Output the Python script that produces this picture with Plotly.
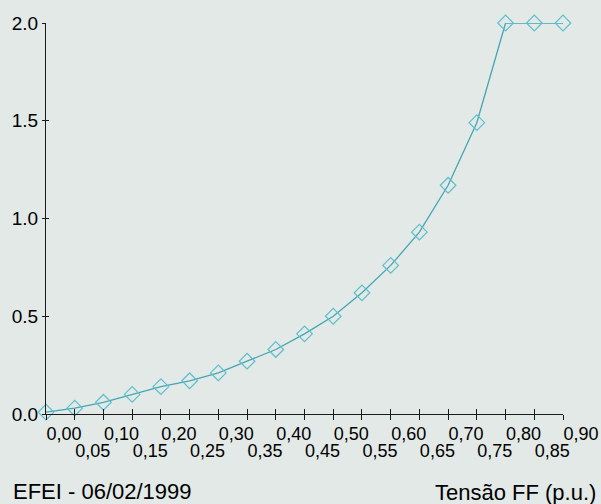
import plotly.graph_objects as go

# Data
tensao = [0.00, 0.05, 0.10, 0.15, 0.20, 0.25, 0.30, 0.35, 0.40, 0.45,
          0.50, 0.55, 0.60, 0.65, 0.70, 0.75, 0.80, 0.85, 0.90]
valores = [0.01, 0.03, 0.06, 0.10, 0.14, 0.17, 0.21, 0.27, 0.33, 0.41,
           0.50, 0.62, 0.76, 0.93, 1.17, 1.49, 2.00, 2.00, 2.00]
x_labels = ["0,00", "0,05", "0,10", "0,15", "0,20", "0,25", "0,30", "0,35", "0,40", "0,45",
            "0,50", "0,55", "0,60", "0,65", "0,70", "0,75", "0,80", "0,85", "0,90"]
y_ticks = [0.0, 0.5, 1.0, 1.5, 2.0]
y_labels = ["0.0", "0.5", "1.0", "1.5", "2.0"]
left_note = "EFEI - 06/02/1999"
x_title = "Tensão FF (p.u.)"

BG = "#e3e9e6"
AX = "#1a1a1a"
FONT = "Liberation Sans, Arial, sans-serif"

row1 = [t if i % 2 == 0 else "" for i, t in enumerate(x_labels)]
row2 = [t if i % 2 == 1 else "" for i, t in enumerate(x_labels)]

fig = go.Figure()
fig.add_trace(go.Scatter(
    x=tensao, y=valores, mode="lines+markers",
    line=dict(color="#45a5b3", width=1.3),
    marker=dict(symbol="diamond-open", size=12, color="#5dbfcd", line=dict(width=1.2)),
    cliponaxis=False, showlegend=False, hoverinfo="x+y",
))
# invisible trace on overlay axes (inner half of the cross ticks + second label row)
fig.add_trace(go.Scatter(
    x=tensao, y=valores, mode="markers", xaxis="x2", yaxis="y2",
    marker=dict(opacity=0), showlegend=False, hoverinfo="skip",
))

common_x = dict(range=[0, 0.9], tickvals=tensao, showgrid=False, zeroline=False,
                showline=True, linecolor=AX, linewidth=1.3, tickcolor=AX, tickwidth=1.2,
                tickfont=dict(family=FONT, size=18, color="#000"), fixedrange=True,
                automargin=False)
common_y = dict(range=[0, 2.0], tickvals=y_ticks, showgrid=False, zeroline=False,
                showline=True, linecolor=AX, linewidth=1.3, tickcolor=AX, tickwidth=1.2,
                tickfont=dict(family=FONT, size=19, color="#000"), fixedrange=True,
                automargin=False)

fig.update_layout(
    width=601, height=504,
    margin=dict(l=46, r=38, t=23, b=90),
    paper_bgcolor=BG, plot_bgcolor=BG,
    xaxis=dict(**common_x, ticks="outside", ticklen=5, ticktext=row1,
               ticklabelshift=18, ticklabelstandoff=-2),
    xaxis2=dict(**common_x, ticks="inside", ticklen=5, ticktext=row2,
                overlaying="x", anchor="y", side="bottom",
                ticklabelshift=18, ticklabelstandoff=20),
    yaxis=dict(**common_y, ticks="outside", ticklen=3, ticktext=y_labels),
    yaxis2=dict(**common_y, ticks="inside", ticklen=3, showticklabels=False,
                overlaying="y", anchor="x", side="left"),
    annotations=[
        dict(text=left_note, xref="paper", yref="paper", x=0, y=0, xanchor="left",
             yanchor="middle", xshift=-35, yshift=-77, showarrow=False,
             font=dict(family=FONT, size=22, color="#000")),
        dict(text=x_title, xref="paper", yref="paper", x=1, y=0, xanchor="right",
             yanchor="middle", xshift=35, yshift=-78, showarrow=False,
             font=dict(family=FONT, size=22, color="#000")),
    ],
)

fig.write_html("out.html")
